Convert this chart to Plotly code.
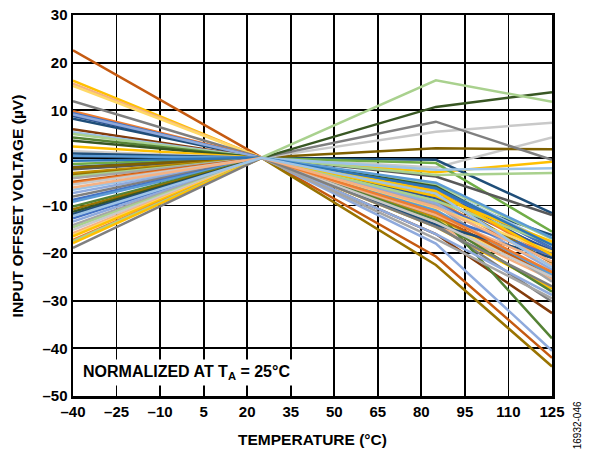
import plotly.graph_objects as go

temps = [-40, 25, 85, 125]
tick_x = [-40, -25, -10, 5, 20, 35, 50, 65, 80, 95, 110, 125]
tick_y = [-50, -40, -30, -20, -10, 0, 10, 20, 30]

# offset voltage (uV) of each unit at -40, 85 and 125 degC (0 at 25 degC)
vos_m40 = [22.6, 16.2, 15.6, 15.1, 11.9, 9.8, 9.4, 8.8, 8.2, 6.0, 5.4, 5.0, 4.3, 3.6,
           2.4, 1.4, 0.9, 9.1, -1.3, -1.9, -2.4, -2.0, -3.2, -3.6, -3.9, -4.3, -5.0,
           -5.3, -5.6, -6.7, -7.4, -8.1, -8.8, -9.2, -10.2, -10.8, -11.3, -11.8, -12.7,
           -13.4, -14.1, -14.6, -15.1, -15.8, -16.2, -16.5, -17.2, -17.5, -17.9, -18.9,
           0.4, -0.6, -6.2, -12.2]
vos_85 = [-20.7, -14.5, -14.0, -13.0, -14.0, -9.0, -9.5, -8.5, -8.0, -16.0, -6.0, -5.5,
          -11.0, -6.0, -3.0, -2.0, -0.4, -18.0, -1.1, -7.0, -3.9, 2.0, -12.5, -8.0, -3.6,
          -10.0, -12.0, -7.0, 5.5, -2.5, -9.5, 7.6, -6.5, -11.0, -13.0, -22.5, 10.7,
          -14.0, -12.0, -16.0, -17.0, -9.0, -13.5, -12.0, -10.5, -7.0, -11.5, 16.3, -8.0,
          -14.5, -5.2, -6.3, -10.3, -7.5]
vos_125 = [-42.0, -27.5, -25.5, -24.5, -30.2, -22.0, -21.0, -19.5, -16.2, -32.6, -18.0,
           -17.0, -37.9, -19.0, -0.8, 4.3, -11.6, -40.5, -15.5, -20.0, -12.0, 1.8, -24.0,
           -22.0, -3.2, -26.0, -25.0, -21.0, 7.4, -2.2, -23.5, -0.4, -19.0, -24.6, -28.1,
           -43.8, 13.8, -21.0, -20.5, -28.8, -29.5, -18.0, -25.0, -22.5, -19.7, -20.4,
           -24.0, 11.8, -17.6, -27.0, -16.8, -18.3, -21.8, -23.0]
colors = ["#C55A11", "#FFC000", "#F4B183", "#FFD966", "#7F7F7F", "#ED7D31", "#4472C4",
          "#2F5597", "#1F4E79", "#843C0C", "#9DC3E6", "#A9D18E", "#548235", "#385723",
          "#FFC000", "#C9C9C9", "#1F4E79", "#8FAADC", "#70AD47", "#2F5597", "#595959",
          "#7F6000", "#BF9000", "#997300", "#A9D18E", "#A5A5A5", "#C55A11", "#ED7D31",
          "#C9C9C9", "#9DC3E6", "#8FAADC", "#7F7F7F", "#4472C4", "#5B9BD5", "#548235",
          "#997300", "#385723", "#1F4E79", "#4472C4", "#8FAADC", "#A5A5A5", "#A9D18E",
          "#C9C9C9", "#F4B183", "#FFD966", "#FFC000", "#ED7D31", "#A9D18E", "#FFC000",
          "#7F7F7F", "#5B9BD5", "#2E75B6", "#F4B183", "#9DC3E6"]

FONT = "Liberation Sans, Arial, sans-serif"

fig = go.Figure()
for a, b, c, col in zip(vos_m40, vos_85, vos_125, colors):
    fig.add_trace(go.Scatter(x=temps, y=[a, 0, b, c], mode="lines",
                             line=dict(color=col, width=2.5), showlegend=False,
                             hoverinfo="skip"))

def lab(v):
    return ("–" + str(-v)) if v < 0 else str(v)

fig.update_layout(
    width=589, height=453,
    margin=dict(l=73, r=37, t=15, b=57, autoexpand=False),
    paper_bgcolor="white", plot_bgcolor="white",
    font=dict(family=FONT, size=15, color="black"),
    xaxis=dict(range=[-40, 125], tickvals=tick_x, ticktext=[lab(v) for v in tick_x],
               showgrid=True, gridcolor="black", gridwidth=1.8, automargin=False,
               showline=True, linecolor="black", linewidth=2.5, mirror=True,
               zeroline=False, ticks="", ticklabeloverflow="allow",
               tickfont=dict(family=FONT, size=15, weight="bold"),
               title=dict(text="<b>TEMPERATURE (°C)</b>",
                          font=dict(family=FONT, size=15.5), standoff=16)),
    yaxis=dict(range=[-50, 30], tickvals=tick_y, ticktext=[lab(v) for v in tick_y],
               showgrid=True, gridcolor="black", gridwidth=1.8, automargin=False,
               showline=True, linecolor="black", linewidth=2.5, mirror=True,
               zeroline=False, ticks="", ticklabeloverflow="allow",
               tickfont=dict(family=FONT, size=15, weight="bold")),
    annotations=[
        dict(text="<b>INPUT OFFSET VOLTAGE (µV)</b>", xref="paper", yref="paper",
             x=-0.115, y=0.5, xanchor="center", yanchor="middle", textangle=-90,
             showarrow=False, font=dict(family=FONT, size=15.5)),
        dict(text="<b>NORMALIZED AT T<sub>A</sub> = 25°C</b>", xref="paper", yref="paper",
             x=0.012, y=0.027, xanchor="left", yanchor="bottom", showarrow=False,
             bgcolor="white", borderpad=3, font=dict(family=FONT, size=16)),
        dict(text="16932-046", xref="paper", yref="paper", x=1.055, y=-0.076,
             xanchor="center", yanchor="middle", textangle=-90, showarrow=False,
             font=dict(family=FONT, size=10, color="black")),
    ],
)
fig.write_html("out.html", config={"displayModeBar": False, "staticPlot": True},
               post_script="document.body.style.margin='0';document.body.style.overflow='hidden';")
